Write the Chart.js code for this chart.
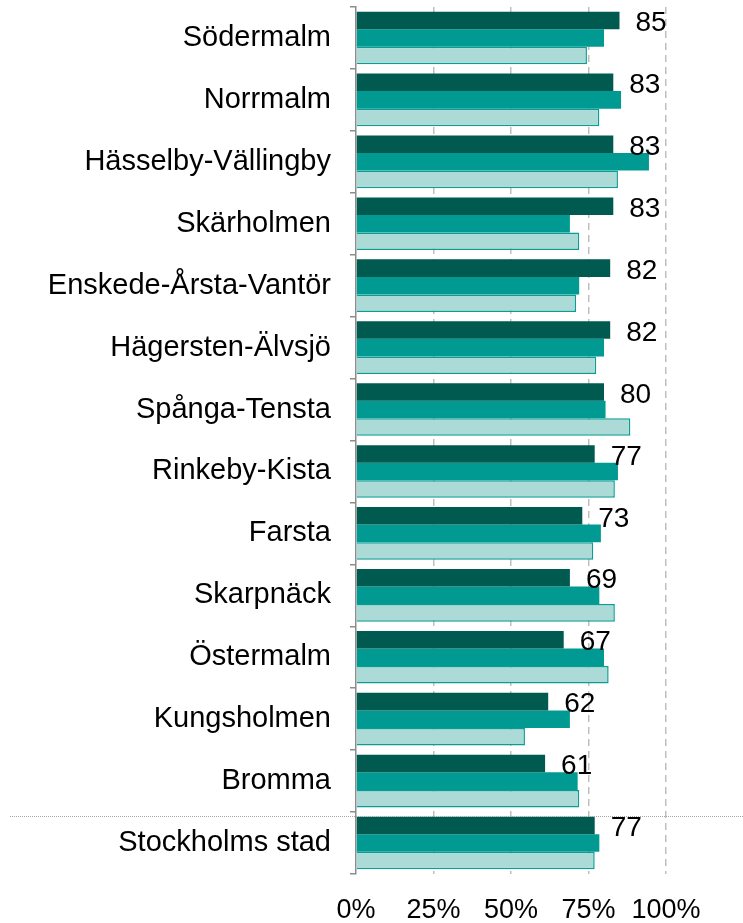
<!DOCTYPE html>
<html lang="sv">
<head>
    <meta charset="UTF-8">
    <title>Stadsdelar</title>
    <script src="https://cdn.jsdelivr.net/npm/chart.js"></script>
    <style>
        html, body {
            margin: 0;
            padding: 0;
            background: #ffffff;
        }
        .chart-box {
            position: relative;
            width: 743px;
            height: 923px;
        }
    </style>
</head>
<body>
    <div class="chart-box">
        <canvas id="chart"></canvas>
    </div>

    <script>
        // Chart data
        const districts = [
            'Södermalm', 'Norrmalm', 'Hässelby-Vällingby', 'Skärholmen',
            'Enskede-Årsta-Vantör', 'Hägersten-Älvsjö', 'Spånga-Tensta',
            'Rinkeby-Kista', 'Farsta', 'Skarpnäck', 'Östermalm',
            'Kungsholmen', 'Bromma', 'Stockholms stad'
        ];
        const seriesDark = [85, 83, 83, 83, 82, 82, 80, 77, 73, 69, 67, 62, 61, 77];
        const seriesTeal = [80, 85.5, 94.5, 69, 72, 80, 80.5, 84.5, 79, 78.5, 80, 69, 71.5, 78.5];
        const seriesLight = [74.5, 78.5, 84.5, 72, 71, 77.5, 88.5, 83.5, 76.5, 83.5, 81.5, 54.5, 72, 77];
        const xTicks = [0, 25, 50, 75, 100];

        const FONT = '"Liberation Sans", Arial, sans-serif';

        // value labels next to the dark bars
        const valueLabels = {
            id: 'valueLabels',
            afterDatasetsDraw(chart) {
                const ctx = chart.ctx;
                const meta = chart.getDatasetMeta(0);
                ctx.save();
                ctx.font = '28px ' + FONT;
                ctx.fillStyle = '#000000';
                ctx.textAlign = 'left';
                ctx.textBaseline = 'middle';
                meta.data.forEach((bar, i) => {
                    ctx.fillText(String(seriesDark[i]), bar.x + 16, bar.y + 3);
                });
                ctx.restore();
            }
        };

        // dotted line separating the city total from the districts
        const totalSeparator = {
            id: 'totalSeparator',
            afterDraw(chart) {
                const y = chart.scales.y;
                const n = districts.length;
                const lineY = Math.round((y.getPixelForValue(n - 2) + y.getPixelForValue(n - 1)) / 2) + 4.5;
                const ctx = chart.ctx;
                ctx.save();
                ctx.strokeStyle = '#a6a6a6';
                ctx.lineWidth = 1;
                ctx.setLineDash([1, 1]);
                ctx.beginPath();
                ctx.moveTo(10, lineY);
                ctx.lineTo(chart.width, lineY);
                ctx.stroke();
                ctx.restore();
            }
        };

        new Chart(document.getElementById('chart'), {
            type: 'bar',
            data: {
                labels: districts,
                datasets: [
                    {
                        data: seriesDark,
                        backgroundColor: '#015a4f',
                        borderWidth: 0
                    },
                    {
                        data: seriesTeal,
                        backgroundColor: '#009a92',
                        borderWidth: 0
                    },
                    {
                        data: seriesLight,
                        backgroundColor: '#acdad6',
                        borderColor: '#0a9d94',
                        borderWidth: 1.5
                    }
                ]
            },
            options: {
                indexAxis: 'y',
                responsive: true,
                maintainAspectRatio: false,
                animation: false,
                layout: { padding: { top: 7, right: 77, left: 0, bottom: 0 } },
                categoryPercentage: 0.85,
                barPercentage: 1.0,
                plugins: {
                    legend: { display: false },
                    tooltip: { enabled: false }
                },
                scales: {
                    x: {
                        min: 0,
                        max: 100,
                        afterBuildTicks: (scale) => {
                            scale.ticks = xTicks.map(v => ({ value: v }));
                        },
                        afterFit: (scale) => {
                            scale.height = 49;
                            scale.paddingLeft = 0;
                            scale.paddingRight = 0;
                        },
                        border: { display: false, dash: [7, 5] },
                        grid: {
                            drawTicks: false,
                            color: (c) => c.tick && c.tick.value === 0 ? 'rgba(0,0,0,0)' : '#bfbfbf',
                            lineWidth: 1.5
                        },
                        ticks: {
                            padding: 20,
                            maxRotation: 0,
                            minRotation: 0,
                            autoSkip: false,
                            color: '#000000',
                            font: { family: FONT, size: 27 },
                            callback: (v) => v + '%'
                        }
                    },
                    y: {
                        afterFit: (scale) => {
                            scale.width = 356;
                            scale.paddingTop = 0;
                            scale.paddingBottom = 0;
                        },
                        border: { display: true, color: '#8c8c8c', width: 1.5 },
                        grid: {
                            offset: true,
                            drawOnChartArea: false,
                            drawTicks: true,
                            tickLength: 6,
                            color: '#8c8c8c',
                            lineWidth: 1.5
                        },
                        ticks: {
                            padding: 19,
                            color: '#000000',
                            font: { family: FONT, size: 29 }
                        }
                    }
                }
            },
            plugins: [valueLabels, totalSeparator]
        });
    </script>
</body>
</html>
